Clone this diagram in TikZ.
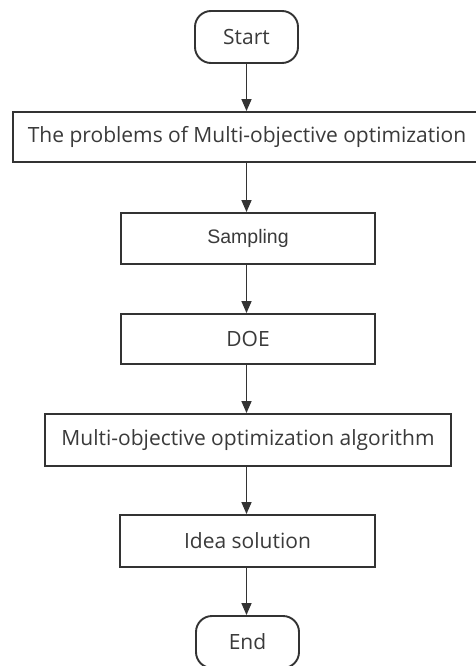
\documentclass[tikz,border=0pt]{standalone}
\usepackage{fontspec}
\setmainfont{Open Sans}
\newfontfamily\arialfont{Liberation Sans}
\usetikzlibrary{arrows.meta}
\definecolor{ln}{HTML}{333333}
\definecolor{tx}{HTML}{3A3A3A}
\begin{document}
\begin{tikzpicture}[x=1pt,y=-1pt,
  box/.style={draw=ln, line width=1.9pt, fill=white, text=tx, inner sep=0pt, font=\fontsize{21}{23}\selectfont},
  term/.style={box, rounded corners=16pt, minimum width=103pt, minimum height=52pt},
  arr/.style={draw=ln, line width=1.5pt, -{Triangle[width=10pt,length=12pt]}}]
\useasboundingbox (0,0) rectangle (475,666);
\node[term] (start) at (246.5,37) {Start};
\node[box, minimum width=468pt, minimum height=50pt] (prob) at (247,137) {The problems of Multi-objective optimization};
\node[box, minimum width=254pt, minimum height=51pt, font=\arialfont\fontsize{19.5}{21}\selectfont] (samp) at (248,238.5) {Sampling};
\node[box, minimum width=254pt, minimum height=50pt] (doe) at (248,339) {DOE};
\node[box, minimum width=406pt, minimum height=52pt] (alg) at (248,440) {Multi-objective optimization algorithm};
\node[box, minimum width=255pt, minimum height=52pt] (idea) at (247.5,541) {Idea solution};
\node[term] (end) at (247.5,642) {End};
\draw[arr] (start.south) -- (start.south |- prob.north);
\draw[arr] (prob.south -| start.south) -- (start.south |- samp.north);
\draw[arr] (samp.south -| start.south) -- (start.south |- doe.north);
\draw[arr] (doe.south -| start.south) -- (start.south |- alg.north);
\draw[arr] (alg.south -| start.south) -- (start.south |- idea.north);
\draw[arr] (idea.south -| start.south) -- (start.south |- end.north);
\end{tikzpicture}
\end{document}
